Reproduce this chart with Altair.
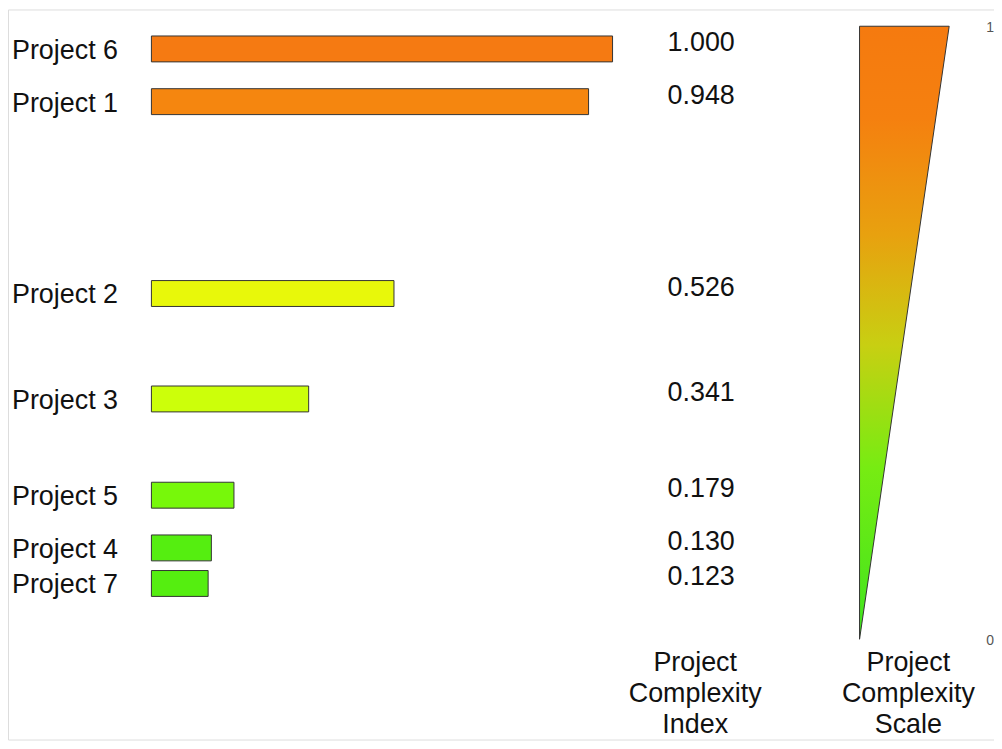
import altair as alt
import pandas as pd

# ---------------- data ----------------
projects = ["Project 6", "Project 1", "Project 2", "Project 3", "Project 5", "Project 4", "Project 7"]
index_values = [1.000, 0.948, 0.526, 0.341, 0.179, 0.130, 0.123]
# vertical slot of each bar, expressed on the 0..1 complexity scale drawn at the right
row_levels = [0.963, 0.877, 0.564, 0.392, 0.235, 0.149, 0.091]
bar_colors = ["#F57A12", "#F5860F", "#E8F80A", "#CCFF0A", "#77F80A", "#55EE10", "#55EE10"]
scale_ticks = [0, 1]
scale_tick_labels = ["0", "1"]
title_index = ["Project", "Complexity", "Index"]
title_scale = ["Project", "Complexity", "Scale"]

# ---------------- layout (pixels in chart space) ----------------
W, H = 990, 733
X0_PX, UNIT_X = 144, 463          # where index 0 sits and length of 1.0
Y0_PX, UNIT_Y = 636, 624          # where scale 0 sits and height of 1.0
xs = alt.Scale(domain=[-X0_PX / UNIT_X, (W - X0_PX) / UNIT_X], nice=False, zero=False)
ys = alt.Scale(domain=[-(H - Y0_PX) / UNIT_Y, Y0_PX / UNIT_Y], nice=False, zero=False)

def px_to_x(px):
    return px / UNIT_X - X0_PX / UNIT_X

FONT = "Liberation Sans"
FS = 27

df = pd.DataFrame({"project": projects, "value": index_values, "row": row_levels})

bars = alt.Chart(df).mark_bar(orient="horizontal", height=26, stroke="#333333", strokeWidth=1).encode(
    x=alt.X("value:Q", scale=xs, axis=None),
    y=alt.Y("row:Q", scale=ys, axis=None),
    color=alt.Color("project:N", scale=alt.Scale(domain=projects, range=bar_colors), legend=None),
)

names = alt.Chart(df).mark_text(align="left", baseline="alphabetic", dy=10, fontSize=FS, font=FONT, color="#111111").encode(
    x=alt.value(4),
    y=alt.Y("row:Q", scale=ys, axis=None),
    text="project:N",
)

values = alt.Chart(df).mark_text(align="center", baseline="alphabetic", dy=2, fontSize=FS, font=FONT, color="#111111").encode(
    x=alt.value(696),
    y=alt.Y("row:Q", scale=ys, axis=None),
    text=alt.Text("value:Q", format=".3f"),
)

# triangle scale: left edge vertical, width grows with the level
tri_left = px_to_x(855)
tri_right_top = px_to_x(945)
tri_df = pd.DataFrame({
    "level": scale_ticks,
    "left": [tri_left for _ in scale_ticks],
    "right": [tri_left + (tri_right_top - tri_left) * t for t in scale_ticks],
})
gradient = alt.Gradient(
    gradient="linear",
    stops=[
        alt.GradientStop(color="#3FE41E", offset=0),
        alt.GradientStop(color="#77EC12", offset=0.28),
        alt.GradientStop(color="#C8CF12", offset=0.48),
        alt.GradientStop(color="#E8A10F", offset=0.66),
        alt.GradientStop(color="#F5800F", offset=0.85),
        alt.GradientStop(color="#F57A0F", offset=1),
    ],
    x1=0, x2=0, y1=1, y2=0,
)
triangle = alt.Chart(tri_df).mark_area(orient="horizontal", fill=gradient, stroke="#333333", strokeWidth=1).encode(
    y=alt.Y("level:Q", scale=ys, axis=None),
    x=alt.X("right:Q", scale=xs, axis=None),
    x2="left:Q",
)

tick_df = pd.DataFrame({"level": scale_ticks, "label": scale_tick_labels})
ticks = alt.Chart(tick_df).mark_text(align="center", baseline="middle", dy=2, fontSize=14, font=FONT, color="#555555").encode(
    x=alt.value(986),
    y=alt.Y("level:Q", scale=ys, axis=None),
    text="label:N",
)

titles_df = pd.DataFrame({"t": ["\n".join(title_index), "\n".join(title_scale)]})
title_index_mark = alt.Chart(titles_df.iloc[[0]]).mark_text(
    align="center", baseline="alphabetic", lineBreak="\n", lineHeight=31, fontSize=FS, font=FONT, color="#111111"
).encode(x=alt.value(690), y=alt.value(664), text="t:N")
title_scale_mark = alt.Chart(titles_df.iloc[[1]]).mark_text(
    align="center", baseline="alphabetic", lineBreak="\n", lineHeight=31, fontSize=FS, font=FONT, color="#111111"
).encode(x=alt.value(904), y=alt.value(664), text="t:N")

chart = alt.layer(bars, names, values, triangle, ticks, title_index_mark, title_scale_mark).properties(
    width=W, height=H, autosize=alt.AutoSizeParams(type="none"), padding=0
).configure_view(strokeWidth=0, stroke="transparent").configure(background="white")

chart.save("out.html", embed_options={"renderer": "svg", "actions": False})
